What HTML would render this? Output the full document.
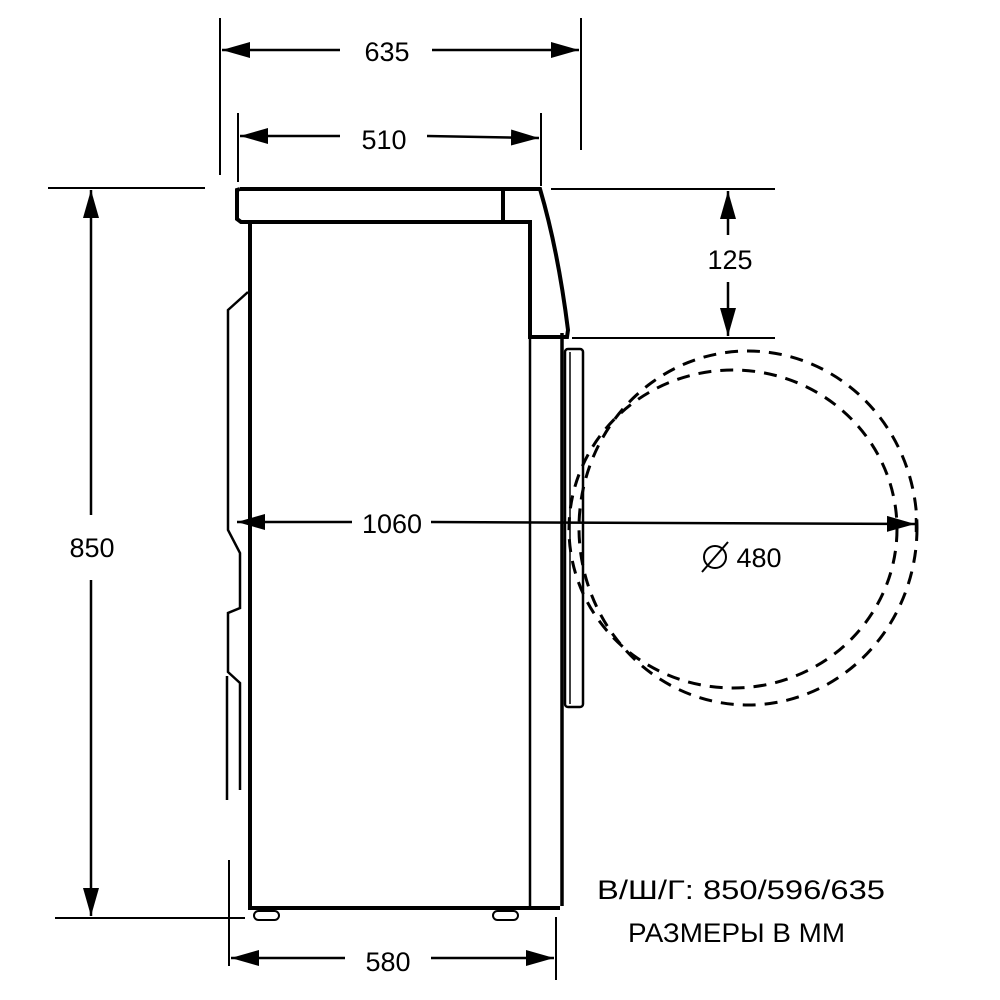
<!DOCTYPE html>
<html><head><meta charset="utf-8"><style>
html,body{margin:0;padding:0;background:#fff;}
svg{display:block;}
text{font-family:"Liberation Sans",sans-serif;fill:#000;}
</style></head><body>
<svg width="1000" height="1000" viewBox="0 0 1000 1000" xmlns="http://www.w3.org/2000/svg">
<defs>
<marker id="b" viewBox="0 0 28 16" refX="28" refY="8" markerWidth="28" markerHeight="16" markerUnits="userSpaceOnUse" orient="auto-start-reverse">
<path d="M0,0 L28,8 L0,16 z" fill="#000"/></marker>
</defs>
<g stroke="#000" fill="none">
<g stroke-width="2">
<line x1="220" y1="18" x2="220" y2="175"/>
<line x1="581" y1="18" x2="581" y2="150"/>
<line x1="238" y1="113" x2="238" y2="182"/>
<line x1="541" y1="113" x2="541" y2="186"/>
<line x1="48" y1="188" x2="205" y2="188"/>
<line x1="55" y1="918" x2="245" y2="918"/>
<line x1="551" y1="189" x2="775" y2="189"/>
<line x1="572" y1="338" x2="775" y2="338"/>
<line x1="229" y1="860" x2="229" y2="966"/>
<line x1="556" y1="917" x2="556" y2="980"/>
</g>
<g stroke-width="2.5">
<line x1="222" y1="50" x2="340" y2="50" marker-start="url(#b)"/>
<line x1="432" y1="50" x2="579" y2="50" marker-end="url(#b)"/>
<line x1="240" y1="136" x2="340" y2="136" marker-start="url(#b)"/>
<line x1="427" y1="136" x2="539" y2="138" marker-end="url(#b)"/>
<line x1="91" y1="190" x2="91" y2="515" marker-start="url(#b)"/>
<line x1="91" y1="580" x2="91" y2="916" marker-end="url(#b)"/>
<line x1="728" y1="191" x2="728" y2="235" marker-start="url(#b)"/>
<line x1="728" y1="282" x2="728" y2="336" marker-end="url(#b)"/>
<line x1="237" y1="522" x2="352" y2="522" marker-start="url(#b)"/>
<line x1="431" y1="522" x2="915" y2="524" marker-end="url(#b)"/>
<line x1="231" y1="958" x2="345" y2="958" marker-start="url(#b)"/>
<line x1="431" y1="958" x2="554" y2="958" marker-end="url(#b)"/>
<line x1="916" y1="518" x2="916" y2="532"/>
</g>
<path d="M240,189 L540,189 Q558,250 568,330 L567,337 L530,337 L530,222 L503,222 L503,189" stroke-width="4"/>
<path d="M240,189 L237,190 L237,219 L241,222 L503,222" stroke-width="4"/>
<line x1="503" y1="189" x2="503" y2="222" stroke-width="2"/>
<line x1="250" y1="222" x2="250" y2="908" stroke-width="4"/>
<line x1="530" y1="222" x2="530" y2="908" stroke-width="2.5"/>
<line x1="562" y1="333" x2="562" y2="906" stroke-width="3.5"/>
<path d="M248,908 L560,908" stroke-width="4"/>
<rect x="565" y="349" width="18" height="358" rx="3" stroke-width="2.5"/>
<line x1="570" y1="352" x2="570" y2="704" stroke-width="1.5"/>
<rect x="254" y="911" width="25" height="9" rx="4.5" stroke-width="2"/>
<rect x="493" y="911" width="25" height="9" rx="4.5" stroke-width="2"/>
<path d="M248,292 L228,310 L228,530 L240,553 L240,608 L228,613 L228,672 L240,683 L240,790" stroke-width="2.5"/>
<line x1="227" y1="676" x2="227" y2="800" stroke-width="2.5"/>
<ellipse cx="748" cy="528" rx="169" ry="177" stroke-width="3" stroke-dasharray="13,9"/>
<ellipse cx="733" cy="529" rx="164" ry="159" stroke-width="3" stroke-dasharray="13,9"/>
<circle cx="715" cy="557" r="11" stroke-width="2"/>
<line x1="702" y1="572" x2="728" y2="542" stroke-width="2"/>
</g>
<g font-size="27" text-anchor="middle">
<text x="387" y="61">635</text>
<text x="384" y="149">510</text>
<text x="92" y="557">850</text>
<text x="730" y="269">125</text>
<text x="392" y="533">1060</text>
<text x="759" y="567">480</text>
<text x="388" y="971">580</text>
</g>
<text x="597" y="899" font-size="27" textLength="288" lengthAdjust="spacingAndGlyphs">В/Ш/Г:  850/596/635</text>
<text x="628" y="942" font-size="27" textLength="217" lengthAdjust="spacingAndGlyphs">РАЗМЕРЫ В ММ</text>
</svg>
</body></html>
